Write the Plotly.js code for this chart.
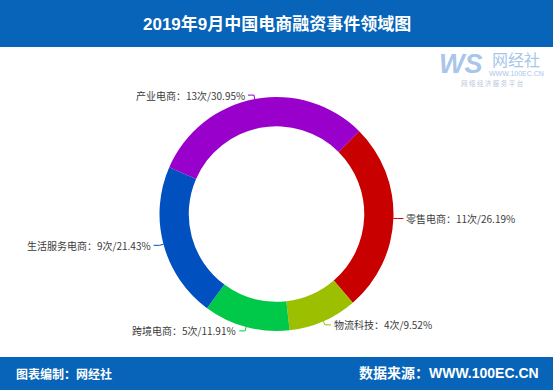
<!DOCTYPE html>
<html>
<head>
<meta charset="utf-8">
<script src="https://cdn.plot.ly/plotly-3.0.1.min.js"></script>
<style>html,body{margin:0;padding:0;background:#fff;}#chart{width:553px;height:392px;}</style>
</head>
<body>
<div id="chart"></div>
<script>
// ---- data ----
const categories = ["零售电商", "物流科技", "跨境电商", "生活服务电商", "产业电商"];
const counts = [11, 4, 5, 9, 13];
const percents = ["26.19%", "9.52%", "11.91%", "21.43%", "30.95%"];
const colors = ["#c80000", "#9cc000", "#00c848", "#0050c0", "#9a00cc"];
const titleText = "2019年9月中国电商融资事件领域图";
const footerLeft = "图表编制：网经社";
const footerRight = "数据来源：WWW.100EC.CN";

// ---- layout geometry ----
const W = 553, H = 392;
const cx = 276.5, cy = 214, R = 117;
const rotation = 45;
const px2x = x => x / W;
const px2y = y => 1 - y / H;

const total = counts.reduce((a, b) => a + b, 0);
const annotations = [];
const shapes = [
  {type: 'rect', xref: 'paper', yref: 'paper', x0: 0, x1: 1, y0: px2y(47), y1: 1, fillcolor: '#0764b8', line: {width: 0}, layer: 'below'},
  {type: 'rect', xref: 'paper', yref: 'paper', x0: 0, x1: 1, y0: px2y(390), y1: px2y(357), fillcolor: '#0764b8', line: {width: 0}, layer: 'below'}
];

let acc = 0;
counts.forEach((c, i) => {
  const mid = (rotation + (acc + c / 2) / total * 360) * Math.PI / 180;
  acc += c;
  const sx = Math.sin(mid), sy = -Math.cos(mid);
  const x0 = cx + R * sx, y0 = cy + R * sy;
  const x1 = cx + (R + 4) * sx, y1 = cy + (R + 4) * sy;
  const side = sx >= 0 ? 1 : -1;
  const x2 = x1 + side * 6, y2 = y1;
  shapes.push({type: 'path', xref: 'paper', yref: 'paper',
    path: `M ${px2x(x0)} ${px2y(y0)} L ${px2x(x1)} ${px2y(y1)} L ${px2x(x2)} ${px2y(y2)}`,
    line: {color: colors[i], width: 1}});
  annotations.push({xref: 'paper', yref: 'paper', x: px2x(x2 + side * 1), y: px2y(y2),
    xanchor: side > 0 ? 'left' : 'right', yanchor: 'middle', showarrow: false,
    text: `${categories[i]}：${c}次/${percents[i]}`,
    font: {family: 'Noto Sans CJK SC, sans-serif', size: 10, color: '#3c3c3c'}});
});

// header / footer / logo texts
annotations.push(
  {xref: 'paper', yref: 'paper', x: 0.5, y: px2y(24), xanchor: 'center', yanchor: 'middle', showarrow: false,
   text: '<b>' + titleText + '</b>', font: {family: 'Liberation Sans, Noto Sans CJK SC, sans-serif', size: 17, color: '#ffffff'}},
  {xref: 'paper', yref: 'paper', x: px2x(14), y: px2y(373), xanchor: 'left', yanchor: 'middle', showarrow: false,
   text: '<b>' + footerLeft + '</b>', font: {family: 'Noto Sans CJK SC, sans-serif', size: 12, color: '#ffffff'}},
  {xref: 'paper', yref: 'paper', x: px2x(541), y: px2y(373), xanchor: 'right', yanchor: 'middle', showarrow: false,
   text: '<b>' + footerRight + '</b>', font: {family: 'Liberation Sans, Noto Sans CJK SC, sans-serif', size: 14, color: '#ffffff'}},
  {xref: 'paper', yref: 'paper', x: px2x(461), y: px2y(64), xanchor: 'center', yanchor: 'middle', showarrow: false,
   text: '<b><i>WS</i></b>', font: {family: 'Liberation Sans, sans-serif', size: 27, color: '#a9c6ea'}},
  {xref: 'paper', yref: 'paper', x: px2x(516), y: px2y(59), xanchor: 'center', yanchor: 'middle', showarrow: false,
   text: '网经社', font: {family: 'Noto Sans CJK SC, sans-serif', size: 16, color: '#a9c6ea'}},
  {xref: 'paper', yref: 'paper', x: px2x(516), y: px2y(74), xanchor: 'center', yanchor: 'middle', showarrow: false,
   text: 'WWW.100EC.CN', font: {family: 'Liberation Sans, sans-serif', size: 7, color: '#a9c6ea'}},
  {xref: 'paper', yref: 'paper', x: px2x(492), y: px2y(83), xanchor: 'center', yanchor: 'middle', showarrow: false,
   text: '网 络 经 济 服 务 平 台', font: {family: 'Noto Sans CJK SC, sans-serif', size: 6.5, color: '#b8c8dc'}}
);

const trace = {
  type: 'pie',
  labels: categories,
  values: counts,
  sort: false,
  direction: 'clockwise',
  rotation: rotation,
  hole: 0.75,
  textinfo: 'none',
  hoverinfo: 'label+value+percent',
  marker: {colors: colors, line: {width: 0}},
  domain: {x: [px2x(cx - R), px2x(cx + R)], y: [px2y(cy + R), px2y(cy - R)]}
};

const layout = {
  width: W, height: H,
  margin: {l: 0, r: 0, t: 0, b: 0},
  paper_bgcolor: '#ffffff',
  showlegend: false,
  shapes: shapes,
  annotations: annotations
};

Plotly.newPlot('chart', [trace], layout, {displayModeBar: false, staticPlot: true});
</script>
</body>
</html>
